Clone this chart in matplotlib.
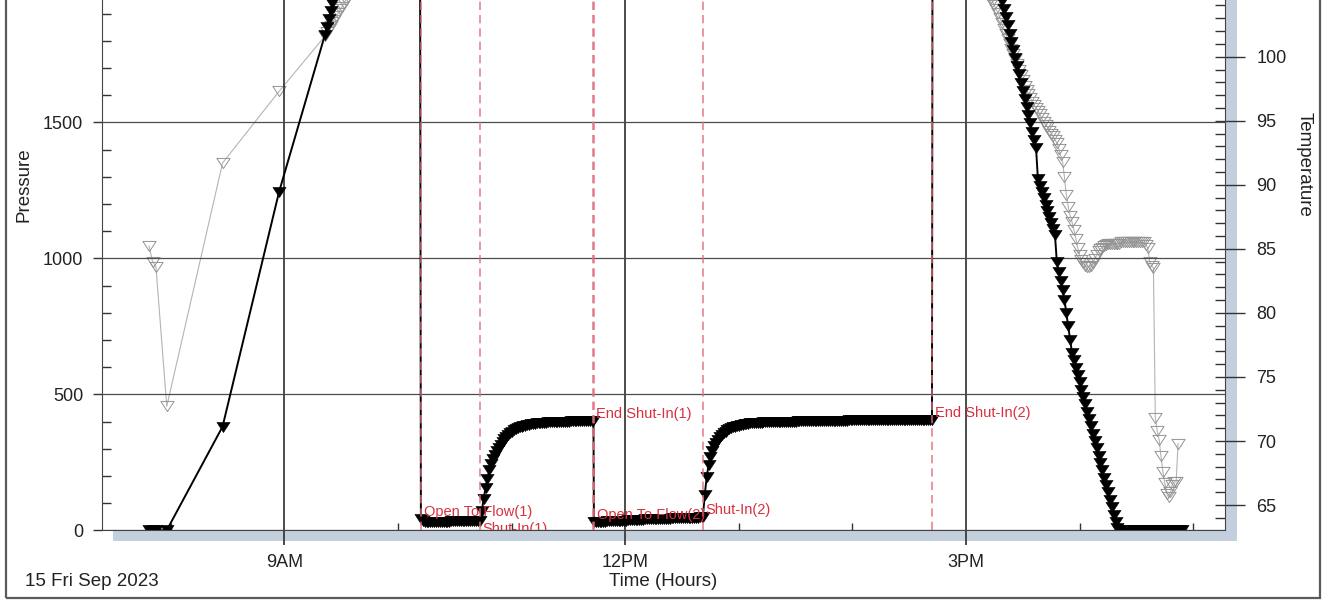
import numpy as np
import matplotlib
matplotlib.use("Agg")
import matplotlib.pyplot as plt
from matplotlib.patches import Rectangle
from matplotlib.path import Path
from matplotlib.ticker import MultipleLocator, FixedLocator, FixedFormatter

plt.rcParams['font.family'] = ['Liberation Sans', 'DejaVu Sans']

# ---------------- gauge record, 15 Sep 2023 (time in decimal hours) ----------------
SAMPLE_H = 1.0 / 60.0          # one-minute logging interval

# sparse readings while running in
run_in_time = [7.81, 7.84, 7.87, 7.965, 8.456, 8.954]
run_in_pres = [0, 0, 0, 0, 381, 1245]
run_in_temp = [85.2, 84.0, 83.6, 72.7, 91.7, 97.3]

# approaching setting depth (one-minute samples)
approach_start = 9.357
approach_pres = [1821, 1850, 1880, 1910, 1940, 1970, 2000, 2030, 2060, 2085,
                 2100, 2110, 2110, 2110]
approach_temp = [101.6, 101.9, 102.2, 102.4, 102.7, 102.9, 103.2, 103.4, 103.7, 103.9,
                 104.2, 104.4, 104.7, 105.0]

# hydrostatic before the test
hydro1_time = [10.0, 10.195]
hydro1_pres = [2110, 2110]

flow1_start = 10.202
flow1_pres = [40, 33, 30, 29, 29, 29, 30, 30, 30, 31,
              31, 31, 32, 32, 32, 32, 33, 33, 33, 33,
              34, 34, 34, 34, 35, 35, 35, 35, 36, 36, 36]

shutin1_start = 10.721
shutin1_pres = [36, 70, 115, 155, 190, 220, 245, 262, 278, 292,
                304, 315, 325, 334, 342, 350, 357, 363, 368, 372,
                376, 379, 381, 383, 385, 387, 388, 390, 391, 392,
                393, 394, 395, 395, 396, 396, 397, 397, 398, 398,
                398, 399, 399, 399, 400, 400, 400, 400, 401, 401,
                401, 401, 402, 402, 402, 402, 402, 403, 403, 403, 403]

flow2_start = 11.725
flow2_pres = [32, 30, 30, 31, 31, 32, 32, 33, 33, 34,
              34, 34, 35, 35, 35, 36, 36, 36, 37, 37,
              37, 38, 38, 38, 39, 39, 39, 40, 40, 40,
              40, 41, 41, 41, 42, 42, 42, 42, 43, 43,
              43, 44, 44, 44, 44, 45, 45, 45, 45, 46,
              46, 46, 46, 47, 47, 47, 48, 48]

shutin2_start = 12.684
shutin2_pres = [50, 130, 195, 240, 270, 292, 309, 322, 333, 342,
                350, 356, 362, 367, 371, 375, 378, 381, 383, 385,
                387, 388, 390, 391, 392, 393, 394, 394, 395, 395,
                396, 396, 397, 397, 397, 398, 398, 398, 398, 399,
                399, 399, 399, 399, 400, 400, 400, 400, 400, 400,
                401, 401, 401, 401, 401, 401, 401, 402, 402, 402,
                402, 402, 402, 402, 402, 403, 403, 403, 403, 403,
                403, 403, 403, 403, 403, 403, 403, 404, 404, 404,
                404, 404, 404, 404, 404, 404, 404, 404, 404, 404,
                404, 405, 405, 405, 405, 405, 405, 405, 405, 405,
                405, 405, 405, 405, 405, 405, 405, 405, 405, 405,
                405, 405, 405, 405, 406, 406, 406, 406, 406, 406, 406, 406]

# hydrostatic after the test
hydro2_time = [14.705, 15.0]
hydro2_pres = [2110, 2110]

# pulling out of hole (one-minute samples)
pull_start = 15.20
pull_pres = [2110, 2110, 2096, 2065, 2035, 2005, 1975, 1945, 1915, 1886,
             1856, 1826, 1796, 1766, 1736, 1706, 1676, 1646, 1616, 1586,
             1556, 1526, 1496, 1466, 1436, 1406, 1290, 1265, 1242, 1220,
             1197, 1175, 1152, 1130, 1108, 1086, 985, 950, 915, 882,
             848, 800, 750, 700, 652, 625, 598, 571, 544, 517,
             490, 463, 436, 409, 382, 355, 328, 301, 274, 247,
             220, 193, 166, 139, 112, 85, 58, 31, 10, 0,
             0, 0, 0, 0, 0, 0, 0, 0, 0, 0,
             0, 0, 0, 0, 0, 0, 0, 0, 0, 0,
             0, 0, 0, 0, 0, 0, 0, 0, 0, 0,
             0, 0, 0]
pull_temp = [105.0, 104.6, 104.3, 104.0, 103.7, 103.4, 103.0, 102.6, 102.2, 101.8,
             101.4, 101.0, 100.6, 100.2, 99.8, 99.4, 99.0, 98.6, 98.2, 97.7,
             97.4, 97.1, 96.8, 96.5, 96.2, 96.0, 95.8, 95.5, 95.2, 94.9,
             94.7, 94.5, 94.2, 94.0, 93.8, 93.5, 93.3, 92.8, 92.3, 91.8,
             90.6, 89.2, 88.3, 87.6, 87.1, 86.5, 85.8, 85.1, 84.5, 84.1,
             83.9, 83.7, 83.6, 83.6, 83.7, 83.9, 84.2, 84.5, 84.8, 85.0,
             85.1, 85.2, 85.3, 85.4, 85.4, 85.4, 85.4, 85.4, 85.4, 85.4,
             85.5, 85.5, 85.5, 85.5, 85.5, 85.5, 85.5, 85.5, 85.5, 85.5,
             85.5, 85.5, 85.5, 85.3, 85.1, 84.0, 83.7, 83.5, 71.8, 70.8,
             70.1, 68.8, 67.6, 66.7, 65.9, 65.6, 66.0, 66.6, 66.8, 66.8,
             69.8]

# temperature while on bottom (off scale)
hold_temp_time = [10.5, 14.9]
hold_temp = [118, 118]

# test events
event_names = ["Open To Flow(1)", "Shut-In(1)", "End Shut-In(1)",
               "Open To Flow(2)", "Shut-In(2)", "End Shut-In(2)"]
event_times = [10.202, 10.721, 11.721, 11.725, 12.684, 14.700]

pressure_ticks = [0, 500, 1000, 1500]
hour_ticks = [9, 12, 15]
hour_labels = ["9AM", "12PM", "3PM"]


def sampled(start, values):
    return start + np.arange(len(values)) * SAMPLE_H


time_p = np.concatenate([run_in_time, sampled(approach_start, approach_pres), hydro1_time,
                         sampled(flow1_start, flow1_pres), sampled(shutin1_start, shutin1_pres),
                         sampled(flow2_start, flow2_pres), sampled(shutin2_start, shutin2_pres),
                         hydro2_time, sampled(pull_start, pull_pres)])
pres = np.concatenate([run_in_pres, approach_pres, hydro1_pres, flow1_pres, shutin1_pres,
                       flow2_pres, shutin2_pres, hydro2_pres, pull_pres]).astype(float)

time_t = np.concatenate([run_in_time, sampled(approach_start, approach_temp), hold_temp_time,
                         sampled(pull_start, pull_temp)])
temp = np.concatenate([run_in_temp, approach_temp, hold_temp, pull_temp]).astype(float)

# ---------------- figure ----------------
W, H = 1323, 600
fig = plt.figure(figsize=(W / 100, H / 100), dpi=100)


def fx(px):
    return px / W


def fy(py):
    return 1 - py / H


PL, PR, PB, PT = 102, 1225, 530.3, -30   # plot frame in pixels (top runs past the page)
ax = fig.add_axes([fx(PL), fy(PB), fx(PR - PL), (PB - PT) / H])
ax2 = ax.twinx()
ax.set_zorder(2)
ax.patch.set_visible(False)
ax2.set_zorder(1)
ax2.patch.set_visible(True)
ax2.patch.set_facecolor('white')

# drop shadow behind the plot frame
fig.add_artist(Rectangle((fx(113), fy(540.5)), fx(1237 - 113), 1.2, transform=fig.transFigure,
                         facecolor='#c3cfdd', edgecolor='none', zorder=-5))
# outer border
fig.add_artist(Rectangle((fx(6), fy(598)), fx(1320 - 6), 1.2, transform=fig.transFigure,
                         fill=False, edgecolor='#5a5a5a', lw=1.6, zorder=10))

tri = Path([(-1.3, 1.0), (1.3, 1.0), (0.0, -1.0), (-1.3, 1.0)],
           [Path.MOVETO, Path.LINETO, Path.LINETO, Path.CLOSEPOLY])

P_PER_PX = 1500 / 408.0
T_PER_PX = 1 / 12.81
ax.set_xlim(7.395, 17.28)
ax.set_ylim(0, (PB - PT) * P_PER_PX)
ax2.set_ylim(63.03, 63.03 + (PB - PT) * T_PER_PX)

ax2.plot(time_t, temp, color='#b4b4b4', lw=0.8, marker=tri, ms=9.5, mfc='none',
         mec='#939393', mew=0.7, zorder=2)
ax.plot(time_p, pres, color='black', lw=1.4, marker=tri, ms=9.5, mfc='black',
        mec='black', mew=0.4, zorder=2)

# event markers
p_at = np.interp(event_times, time_p, pres)
for name, t, p in zip(event_names, event_times, p_at):
    ax.axvline(t, color='#e0707f', lw=1.2, dashes=(5, 3), alpha=0.85, zorder=3)
    below = name == "Shut-In(1)"
    ax.annotate(name, (t, p), xytext=(2, -1 if below else 0), textcoords='offset points',
                ha='left', va='top' if below else 'bottom', fontsize=10.5,
                color='#d8303f', zorder=4, annotation_clip=False, clip_on=True)

# grid
ax.yaxis.set_major_locator(FixedLocator(pressure_ticks))
ax.yaxis.set_minor_locator(MultipleLocator(100))
ax.xaxis.set_major_locator(FixedLocator(hour_ticks))
ax.xaxis.set_major_formatter(FixedFormatter(hour_labels))
ax.xaxis.set_minor_locator(MultipleLocator(1))
ax.grid(True, which='major', axis='y', color='#4d4d4d', lw=0.9)
ax.grid(True, which='major', axis='x', color='#2e2e2e', lw=1.2)

ax2.yaxis.set_major_locator(MultipleLocator(5))
ax2.yaxis.set_minor_locator(MultipleLocator(1))
ax2.yaxis.remove_overlapping_locs = False

tick_col = '#333333'
ax.tick_params(axis='y', which='major', direction='out', length=6.5, width=1.0,
               color=tick_col, labelsize=13, pad=7, labelcolor='#222222')
ax.tick_params(axis='y', which='minor', direction='in', length=6.5, width=1.0, color=tick_col)
ax.tick_params(axis='x', which='major', direction='out', length=11, width=1.2,
               color='#2e2e2e', labelsize=13, pad=6, labelcolor='#222222')
ax.tick_params(axis='x', which='minor', direction='in', length=5, width=1.0, color=tick_col)
ax.tick_params(axis='y', right=False)
ax2.tick_params(axis='y', which='major', direction='out', length=14.5, width=1.0,
                color=tick_col, labelsize=13, pad=8, labelcolor='#222222')
ax2.tick_params(axis='y', which='minor', direction='in', length=7.2, width=1.0, color=tick_col)

for s in ('top', 'right'):
    ax.spines[s].set_visible(False)
for s in ('top', 'left', 'bottom'):
    ax2.spines[s].set_visible(False)
for s in ('left', 'bottom'):
    ax.spines[s].set_color('#444444')
ax2.spines['right'].set_color('#444444')

# axis titles
fig.text(fx(24.5), fy(185), 'Pressure', rotation=90, ha='center', va='center',
         fontsize=13.5, color='#222222')
fig.text(fx(1304), fy(164), 'Temperature', rotation=270, ha='center', va='center',
         fontsize=13.5, color='#222222')
fig.text(fx(663), fy(582), 'Time (Hours)', ha='center', va='center', fontsize=13.5,
         color='#222222')
fig.text(fx(25), fy(582), '15 Fri Sep 2023', ha='left', va='center', fontsize=13.5,
         color='#222222')

fig.savefig('out.png', dpi=100)
